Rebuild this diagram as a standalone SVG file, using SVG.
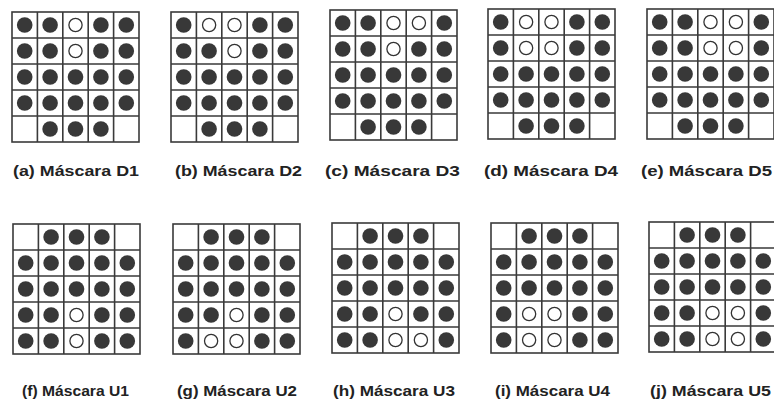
<svg xmlns="http://www.w3.org/2000/svg" xmlns:xlink="http://www.w3.org/1999/xlink" width="774" height="405" viewBox="0 0 774 405">
<style>
.bg{fill:#fff}
.grid{fill:none;stroke:#3a3a3a;stroke-width:1.6}
.f{fill:#383838}
.o{fill:#fff;stroke:#333;stroke-width:1.3}
.lbl{font-family:"Liberation Sans",Arial,sans-serif;font-weight:bold;font-size:15px;fill:#222}
</style>
<defs>
<g id="grid">
<rect class="grid" x="0" y="0" width="127" height="130"/>
<path class="grid" d="M25.4 0V130M50.8 0V130M76.2 0V130M101.6 0V130M0 26H127M0 52H127M0 78H127M0 104H127"/>
</g>
<circle id="F" class="f" r="7.8"/>
<circle id="O" class="o" r="6.6"/>
</defs>
<rect class="bg" width="774" height="405"/>

<g id="D1" transform="translate(12,12)">
<use xlink:href="#grid"/>
<use xlink:href="#F" x="12.7" y="13"/><use xlink:href="#F" x="38.1" y="13"/><use xlink:href="#O" x="63.5" y="13"/><use xlink:href="#F" x="88.9" y="13"/><use xlink:href="#F" x="114.3" y="13"/>
<use xlink:href="#F" x="12.7" y="39"/><use xlink:href="#F" x="38.1" y="39"/><use xlink:href="#O" x="63.5" y="39"/><use xlink:href="#F" x="88.9" y="39"/><use xlink:href="#F" x="114.3" y="39"/>
<use xlink:href="#F" x="12.7" y="65"/><use xlink:href="#F" x="38.1" y="65"/><use xlink:href="#F" x="63.5" y="65"/><use xlink:href="#F" x="88.9" y="65"/><use xlink:href="#F" x="114.3" y="65"/>
<use xlink:href="#F" x="12.7" y="91"/><use xlink:href="#F" x="38.1" y="91"/><use xlink:href="#F" x="63.5" y="91"/><use xlink:href="#F" x="88.9" y="91"/><use xlink:href="#F" x="114.3" y="91"/>
<use xlink:href="#F" x="38.1" y="117"/><use xlink:href="#F" x="63.5" y="117"/><use xlink:href="#F" x="88.9" y="117"/>
</g>

<g id="D2" transform="translate(171,12)">
<use xlink:href="#grid"/>
<use xlink:href="#F" x="12.7" y="13"/><use xlink:href="#O" x="38.1" y="13"/><use xlink:href="#O" x="63.5" y="13"/><use xlink:href="#F" x="88.9" y="13"/><use xlink:href="#F" x="114.3" y="13"/>
<use xlink:href="#F" x="12.7" y="39"/><use xlink:href="#F" x="38.1" y="39"/><use xlink:href="#O" x="63.5" y="39"/><use xlink:href="#F" x="88.9" y="39"/><use xlink:href="#F" x="114.3" y="39"/>
<use xlink:href="#F" x="12.7" y="65"/><use xlink:href="#F" x="38.1" y="65"/><use xlink:href="#F" x="63.5" y="65"/><use xlink:href="#F" x="88.9" y="65"/><use xlink:href="#F" x="114.3" y="65"/>
<use xlink:href="#F" x="12.7" y="91"/><use xlink:href="#F" x="38.1" y="91"/><use xlink:href="#F" x="63.5" y="91"/><use xlink:href="#F" x="88.9" y="91"/><use xlink:href="#F" x="114.3" y="91"/>
<use xlink:href="#F" x="38.1" y="117"/><use xlink:href="#F" x="63.5" y="117"/><use xlink:href="#F" x="88.9" y="117"/>
</g>

<g id="D3" transform="translate(330,10)">
<use xlink:href="#grid"/>
<use xlink:href="#F" x="12.7" y="13"/><use xlink:href="#F" x="38.1" y="13"/><use xlink:href="#O" x="63.5" y="13"/><use xlink:href="#O" x="88.9" y="13"/><use xlink:href="#F" x="114.3" y="13"/>
<use xlink:href="#F" x="12.7" y="39"/><use xlink:href="#F" x="38.1" y="39"/><use xlink:href="#O" x="63.5" y="39"/><use xlink:href="#F" x="88.9" y="39"/><use xlink:href="#F" x="114.3" y="39"/>
<use xlink:href="#F" x="12.7" y="65"/><use xlink:href="#F" x="38.1" y="65"/><use xlink:href="#F" x="63.5" y="65"/><use xlink:href="#F" x="88.9" y="65"/><use xlink:href="#F" x="114.3" y="65"/>
<use xlink:href="#F" x="12.7" y="91"/><use xlink:href="#F" x="38.1" y="91"/><use xlink:href="#F" x="63.5" y="91"/><use xlink:href="#F" x="88.9" y="91"/><use xlink:href="#F" x="114.3" y="91"/>
<use xlink:href="#F" x="38.1" y="117"/><use xlink:href="#F" x="63.5" y="117"/><use xlink:href="#F" x="88.9" y="117"/>
</g>

<g id="D4" transform="translate(488,9)">
<use xlink:href="#grid"/>
<use xlink:href="#F" x="12.7" y="13"/><use xlink:href="#O" x="38.1" y="13"/><use xlink:href="#O" x="63.5" y="13"/><use xlink:href="#F" x="88.9" y="13"/><use xlink:href="#F" x="114.3" y="13"/>
<use xlink:href="#F" x="12.7" y="39"/><use xlink:href="#O" x="38.1" y="39"/><use xlink:href="#O" x="63.5" y="39"/><use xlink:href="#F" x="88.9" y="39"/><use xlink:href="#F" x="114.3" y="39"/>
<use xlink:href="#F" x="12.7" y="65"/><use xlink:href="#F" x="38.1" y="65"/><use xlink:href="#F" x="63.5" y="65"/><use xlink:href="#F" x="88.9" y="65"/><use xlink:href="#F" x="114.3" y="65"/>
<use xlink:href="#F" x="12.7" y="91"/><use xlink:href="#F" x="38.1" y="91"/><use xlink:href="#F" x="63.5" y="91"/><use xlink:href="#F" x="88.9" y="91"/><use xlink:href="#F" x="114.3" y="91"/>
<use xlink:href="#F" x="38.1" y="117"/><use xlink:href="#F" x="63.5" y="117"/><use xlink:href="#F" x="88.9" y="117"/>
</g>

<g id="D5" transform="translate(647,9)">
<use xlink:href="#grid"/>
<use xlink:href="#F" x="12.7" y="13"/><use xlink:href="#F" x="38.1" y="13"/><use xlink:href="#O" x="63.5" y="13"/><use xlink:href="#O" x="88.9" y="13"/><use xlink:href="#F" x="114.3" y="13"/>
<use xlink:href="#F" x="12.7" y="39"/><use xlink:href="#F" x="38.1" y="39"/><use xlink:href="#O" x="63.5" y="39"/><use xlink:href="#O" x="88.9" y="39"/><use xlink:href="#F" x="114.3" y="39"/>
<use xlink:href="#F" x="12.7" y="65"/><use xlink:href="#F" x="38.1" y="65"/><use xlink:href="#F" x="63.5" y="65"/><use xlink:href="#F" x="88.9" y="65"/><use xlink:href="#F" x="114.3" y="65"/>
<use xlink:href="#F" x="12.7" y="91"/><use xlink:href="#F" x="38.1" y="91"/><use xlink:href="#F" x="63.5" y="91"/><use xlink:href="#F" x="88.9" y="91"/><use xlink:href="#F" x="114.3" y="91"/>
<use xlink:href="#F" x="38.1" y="117"/><use xlink:href="#F" x="63.5" y="117"/><use xlink:href="#F" x="88.9" y="117"/>
</g>

<g id="U1" transform="translate(13,224)">
<use xlink:href="#grid"/>
<use xlink:href="#F" x="38.1" y="13"/><use xlink:href="#F" x="63.5" y="13"/><use xlink:href="#F" x="88.9" y="13"/>
<use xlink:href="#F" x="12.7" y="39"/><use xlink:href="#F" x="38.1" y="39"/><use xlink:href="#F" x="63.5" y="39"/><use xlink:href="#F" x="88.9" y="39"/><use xlink:href="#F" x="114.3" y="39"/>
<use xlink:href="#F" x="12.7" y="65"/><use xlink:href="#F" x="38.1" y="65"/><use xlink:href="#F" x="63.5" y="65"/><use xlink:href="#F" x="88.9" y="65"/><use xlink:href="#F" x="114.3" y="65"/>
<use xlink:href="#F" x="12.7" y="91"/><use xlink:href="#F" x="38.1" y="91"/><use xlink:href="#O" x="63.5" y="91"/><use xlink:href="#F" x="88.9" y="91"/><use xlink:href="#F" x="114.3" y="91"/>
<use xlink:href="#F" x="12.7" y="117"/><use xlink:href="#F" x="38.1" y="117"/><use xlink:href="#O" x="63.5" y="117"/><use xlink:href="#F" x="88.9" y="117"/><use xlink:href="#F" x="114.3" y="117"/>
</g>

<g id="U2" transform="translate(173,224)">
<use xlink:href="#grid"/>
<use xlink:href="#F" x="38.1" y="13"/><use xlink:href="#F" x="63.5" y="13"/><use xlink:href="#F" x="88.9" y="13"/>
<use xlink:href="#F" x="12.7" y="39"/><use xlink:href="#F" x="38.1" y="39"/><use xlink:href="#F" x="63.5" y="39"/><use xlink:href="#F" x="88.9" y="39"/><use xlink:href="#F" x="114.3" y="39"/>
<use xlink:href="#F" x="12.7" y="65"/><use xlink:href="#F" x="38.1" y="65"/><use xlink:href="#F" x="63.5" y="65"/><use xlink:href="#F" x="88.9" y="65"/><use xlink:href="#F" x="114.3" y="65"/>
<use xlink:href="#F" x="12.7" y="91"/><use xlink:href="#F" x="38.1" y="91"/><use xlink:href="#O" x="63.5" y="91"/><use xlink:href="#F" x="88.9" y="91"/><use xlink:href="#F" x="114.3" y="91"/>
<use xlink:href="#F" x="12.7" y="117"/><use xlink:href="#O" x="38.1" y="117"/><use xlink:href="#O" x="63.5" y="117"/><use xlink:href="#F" x="88.9" y="117"/><use xlink:href="#F" x="114.3" y="117"/>
</g>

<g id="U3" transform="translate(332,223)">
<use xlink:href="#grid"/>
<use xlink:href="#F" x="38.1" y="13"/><use xlink:href="#F" x="63.5" y="13"/><use xlink:href="#F" x="88.9" y="13"/>
<use xlink:href="#F" x="12.7" y="39"/><use xlink:href="#F" x="38.1" y="39"/><use xlink:href="#F" x="63.5" y="39"/><use xlink:href="#F" x="88.9" y="39"/><use xlink:href="#F" x="114.3" y="39"/>
<use xlink:href="#F" x="12.7" y="65"/><use xlink:href="#F" x="38.1" y="65"/><use xlink:href="#F" x="63.5" y="65"/><use xlink:href="#F" x="88.9" y="65"/><use xlink:href="#F" x="114.3" y="65"/>
<use xlink:href="#F" x="12.7" y="91"/><use xlink:href="#F" x="38.1" y="91"/><use xlink:href="#O" x="63.5" y="91"/><use xlink:href="#F" x="88.9" y="91"/><use xlink:href="#F" x="114.3" y="91"/>
<use xlink:href="#F" x="12.7" y="117"/><use xlink:href="#F" x="38.1" y="117"/><use xlink:href="#O" x="63.5" y="117"/><use xlink:href="#O" x="88.9" y="117"/><use xlink:href="#F" x="114.3" y="117"/>
</g>

<g id="U4" transform="translate(491,223)">
<use xlink:href="#grid"/>
<use xlink:href="#F" x="38.1" y="13"/><use xlink:href="#F" x="63.5" y="13"/><use xlink:href="#F" x="88.9" y="13"/>
<use xlink:href="#F" x="12.7" y="39"/><use xlink:href="#F" x="38.1" y="39"/><use xlink:href="#F" x="63.5" y="39"/><use xlink:href="#F" x="88.9" y="39"/><use xlink:href="#F" x="114.3" y="39"/>
<use xlink:href="#F" x="12.7" y="65"/><use xlink:href="#F" x="38.1" y="65"/><use xlink:href="#F" x="63.5" y="65"/><use xlink:href="#F" x="88.9" y="65"/><use xlink:href="#F" x="114.3" y="65"/>
<use xlink:href="#F" x="12.7" y="91"/><use xlink:href="#O" x="38.1" y="91"/><use xlink:href="#O" x="63.5" y="91"/><use xlink:href="#F" x="88.9" y="91"/><use xlink:href="#F" x="114.3" y="91"/>
<use xlink:href="#F" x="12.7" y="117"/><use xlink:href="#O" x="38.1" y="117"/><use xlink:href="#O" x="63.5" y="117"/><use xlink:href="#F" x="88.9" y="117"/><use xlink:href="#F" x="114.3" y="117"/>
</g>

<g id="U5" transform="translate(649,222)">
<use xlink:href="#grid"/>
<use xlink:href="#F" x="38.1" y="13"/><use xlink:href="#F" x="63.5" y="13"/><use xlink:href="#F" x="88.9" y="13"/>
<use xlink:href="#F" x="12.7" y="39"/><use xlink:href="#F" x="38.1" y="39"/><use xlink:href="#F" x="63.5" y="39"/><use xlink:href="#F" x="88.9" y="39"/><use xlink:href="#F" x="114.3" y="39"/>
<use xlink:href="#F" x="12.7" y="65"/><use xlink:href="#F" x="38.1" y="65"/><use xlink:href="#F" x="63.5" y="65"/><use xlink:href="#F" x="88.9" y="65"/><use xlink:href="#F" x="114.3" y="65"/>
<use xlink:href="#F" x="12.7" y="91"/><use xlink:href="#F" x="38.1" y="91"/><use xlink:href="#O" x="63.5" y="91"/><use xlink:href="#O" x="88.9" y="91"/><use xlink:href="#F" x="114.3" y="91"/>
<use xlink:href="#F" x="12.7" y="117"/><use xlink:href="#F" x="38.1" y="117"/><use xlink:href="#O" x="63.5" y="117"/><use xlink:href="#O" x="88.9" y="117"/><use xlink:href="#F" x="114.3" y="117"/>
</g>

<g id="labels">
<text class="lbl" x="13" y="176" textLength="126" lengthAdjust="spacingAndGlyphs">(a) Máscara D1</text>
<text class="lbl" x="175" y="176" textLength="127" lengthAdjust="spacingAndGlyphs">(b) Máscara D2</text>
<text class="lbl" x="325" y="176" textLength="135" lengthAdjust="spacingAndGlyphs">(c) Máscara D3</text>
<text class="lbl" x="484" y="176" textLength="134" lengthAdjust="spacingAndGlyphs">(d) Máscara D4</text>
<text class="lbl" x="641" y="176" textLength="131" lengthAdjust="spacingAndGlyphs">(e) Máscara D5</text>
<text class="lbl" x="22" y="396" textLength="107" lengthAdjust="spacingAndGlyphs">(f) Máscara U1</text>
<text class="lbl" x="177" y="396" textLength="120" lengthAdjust="spacingAndGlyphs">(g) Máscara U2</text>
<text class="lbl" x="333" y="396" textLength="122" lengthAdjust="spacingAndGlyphs">(h) Máscara U3</text>
<text class="lbl" x="495" y="396" textLength="115" lengthAdjust="spacingAndGlyphs">(i) Máscara U4</text>
<text class="lbl" x="650" y="396" textLength="121" lengthAdjust="spacingAndGlyphs">(j) Máscara U5</text>
</g>
</svg>
